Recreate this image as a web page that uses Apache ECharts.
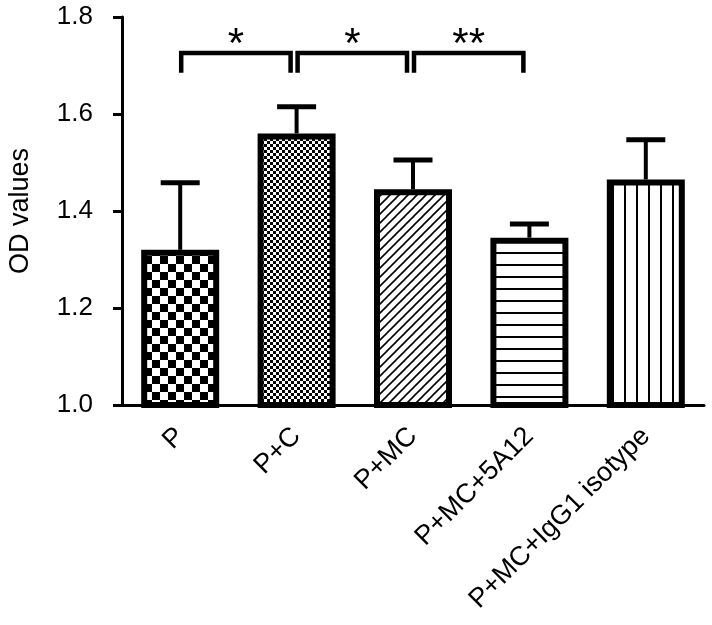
<!DOCTYPE html>
<html>
<head>
<meta charset="utf-8">
<script src="https://cdn.jsdelivr.net/npm/echarts@6/dist/echarts.min.js"></script>
<style>
  html, body { margin: 0; padding: 0; background: #fff; }
  #chart { width: 712px; height: 625px; }
</style>
</head>
<body>
<div id="chart"></div>
<script>
// groups and OD means
const categories = ['P', 'P+C', 'P+MC', 'P+MC+5A12', 'P+MC+IgG1 isotype'];
const means = [1.32, 1.56, 1.445, 1.345, 1.465];
const errors = [0.138, 0.055, 0.06, 0.028, 0.082];   // upper error only
const yTicks = { min: 1.0, max: 1.8, interval: 0.2 };

// significance brackets
const bracketPairs = [[0, 1], [1, 2], [2, 3]];
const bracketLabels = ['*', '*', '**'];
const bracketTop = 1.726;
const bracketFoot = 1.685;

const FONT = 'Liberation Sans, Arial, Helvetica, sans-serif';

// fill patterns (canvas tiles)
function tile(w, h, draw) {
  const c = document.createElement('canvas');
  c.width = w; c.height = h;
  const ctx = c.getContext('2d');
  ctx.fillStyle = '#fff';
  ctx.fillRect(0, 0, w, h);
  ctx.fillStyle = '#000';
  ctx.strokeStyle = '#000';
  draw(ctx);
  return { image: c, repeat: 'repeat' };
}
function checker(s) {
  return tile(s * 2, s * 2, ctx => {
    ctx.fillRect(0, 0, s, s);
    ctx.fillRect(s, s, s, s);
  });
}
const patterns = [
  checker(8),
  checker(3),
  tile(9, 9, ctx => {
    ctx.lineWidth = 1.6;
    for (let k = -1; k <= 1; k++) {
      ctx.beginPath();
      ctx.moveTo(k * 9 - 1, 10);
      ctx.lineTo(k * 9 + 10, -1);
      ctx.stroke();
    }
  }),
  tile(12, 12, ctx => { ctx.fillRect(0, 0, 12, 2); }),
  tile(12, 12, ctx => { ctx.fillRect(0, 0, 2, 12); })
];

const chart = echarts.init(document.getElementById('chart'));

chart.setOption({
  animation: false,
  backgroundColor: '#fff',
  grid: { left: 122, right: 8, top: 17, bottom: 220, containLabel: false, outerBoundsMode: 'none' },
  xAxis: {
    type: 'category',
    data: categories,
    boundaryGap: true,
    axisLine: { lineStyle: { color: '#000', width: 3 } },
    axisTick: { alignWithLabel: true, length: 9, lineStyle: { color: '#000', width: 3 } },
    axisLabel: { rotate: 45, margin: 27, color: '#000', fontSize: 27, fontFamily: FONT, interval: 0 }
  },
  yAxis: {
    type: 'value',
    min: yTicks.min, max: yTicks.max, interval: yTicks.interval,
    name: 'OD values',
    nameLocation: 'middle',
    nameGap: 88,
    nameRotate: 90,
    nameTextStyle: { color: '#000', fontSize: 27, fontFamily: FONT },
    splitLine: { show: false },
    axisLine: { show: true, lineStyle: { color: '#000', width: 3 } },
    axisTick: { show: true, length: 9, lineStyle: { color: '#000', width: 3 } },
    axisLabel: {
      color: '#000', fontSize: 26, fontFamily: FONT, margin: 29,
      formatter: v => v.toFixed(1)
    }
  },
  series: [
    {
      type: 'bar',
      barWidth: 78,
      data: means.map((v, i) => ({
        value: v,
        itemStyle: { color: patterns[i], borderColor: '#000', borderWidth: 6 }
      })),
      z: 2
    },
    {
      type: 'custom',
      z: 3,
      data: means.map((m, i) => [i, m, m + errors[i]]),
      renderItem: (params, api) => {
        const p0 = api.coord([api.value(0), api.value(1)]);
        const p1 = api.coord([api.value(0), api.value(2)]);
        return {
          type: 'group',
          children: [
            { type: 'line', shape: { x1: p0[0], y1: p0[1], x2: p1[0], y2: p1[1] },
              style: { stroke: '#000', lineWidth: 4 } },
            { type: 'line', shape: { x1: p1[0] - 19.5, y1: p1[1], x2: p1[0] + 19.5, y2: p1[1] },
              style: { stroke: '#000', lineWidth: 5 } }
          ]
        };
      }
    },
    {
      type: 'custom',
      z: 3,
      data: bracketPairs.map((p, i) => [p[0], p[1], i]),
      renderItem: (params, api) => {
        const a = api.coord([api.value(0), bracketTop]);
        const b = api.coord([api.value(1), bracketTop]);
        const foot = api.coord([api.value(0), bracketFoot])[1];
        const x1 = a[0] + 1, x2 = b[0] - 6, y = a[1];
        return {
          type: 'group',
          children: [
            { type: 'polyline',
              shape: { points: [[x1, foot], [x1, y], [x2, y], [x2, foot]] },
              style: { stroke: '#000', lineWidth: 4.5, fill: null, lineJoin: 'miter', lineCap: 'butt' } },
            { type: 'text',
              style: { text: bracketLabels[api.value(2)], x: (x1 + x2) / 2, y: y - 7,
                       align: 'center', verticalAlign: 'middle',
                       font: '42px ' + FONT, fill: '#000' } }
          ]
        };
      }
    }
  ]
});
</script>
</body>
</html>
